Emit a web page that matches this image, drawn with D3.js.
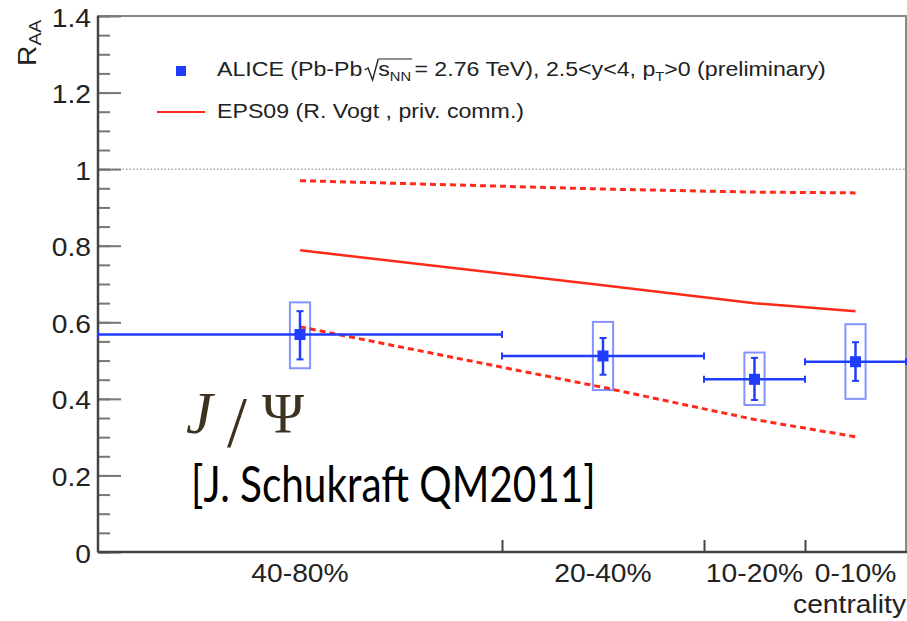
<!DOCTYPE html>
<html>
<head>
<meta charset="utf-8" />
<style>
body { margin: 0; background: white; }
svg { display: block; }
</style>
<script src="https://cdnjs.cloudflare.com/ajax/libs/d3/7.8.5/d3.min.js"></script>
</head>
<body>
<div id="chart"></div>
<script>
// centrality bins (percent), right side = most central
var binLabels = ["40-80%", "20-40%", "10-20%", "0-10%"];
var binLow    = [40, 20, 10, 0];
var binHigh   = [80, 40, 20, 10];
var binCenter = [60, 30, 15, 5];

// ALICE J/psi R_AA
var raa     = [0.568, 0.512, 0.451, 0.497];
var statLo  = [0.503, 0.463, 0.397, 0.447];
var statHi  = [0.629, 0.559, 0.507, 0.548];
var sysLo   = [0.480, 0.423, 0.384, 0.400];
var sysHi   = [0.652, 0.601, 0.521, 0.595];

// EPS09 shadowing band
var epsCentral = [0.788, 0.697, 0.650, 0.629];
var epsUpper   = [0.970, 0.948, 0.940, 0.938];
var epsLower   = [0.588, 0.430, 0.346, 0.301];

var yTicks = [0, 0.2, 0.4, 0.6, 0.8, 1, 1.2, 1.4];
var yMinor = d3.range(0, 29).map(function(i) { return i * 0.05; });
var xEdges = [40, 20, 10];

var W = 907, H = 621;
var mLeft = 98, mRight = 906, mTop = 16, mBottom = 552;
var blue = "#1f3cff", red = "#ff2a1a";
var sx = 1.13; // root fonts look a bit wide

var x = d3.scaleLinear().domain([80, 0]).range([mLeft, mRight]);
var y = d3.scaleLinear().domain([0, 1.4]).range([mBottom, mTop]);

var svg = d3.select("#chart").append("svg")
  .attr("width", W).attr("height", H)
  .style("font-family", "'Liberation Sans', Arial, sans-serif");

// frame
svg.append("rect")
  .attr("x", mLeft).attr("y", mTop)
  .attr("width", mRight - mLeft).attr("height", mBottom - mTop)
  .attr("fill", "none").attr("stroke", "#888").attr("stroke-width", 2);

// dotted line at 1
svg.append("line")
  .attr("x1", mLeft).attr("x2", mRight)
  .attr("y1", y(1)).attr("y2", y(1))
  .attr("stroke", "#777").attr("stroke-width", 1)
  .attr("stroke-dasharray", "1.5,2");

// y ticks (minor + major) pointing inward
svg.append("g")
  .attr("transform", "translate(" + mLeft + ",0)")
  .call(d3.axisRight(y).tickValues(yMinor).tickSize(12).tickFormat(""))
  .call(function(g) { g.select(".domain").remove(); })
  .selectAll("line").attr("stroke", "#777").attr("stroke-width", 2);

svg.append("g")
  .attr("transform", "translate(" + mLeft + ",0)")
  .call(d3.axisRight(y).tickValues(yTicks).tickSize(23).tickFormat(""))
  .call(function(g) { g.select(".domain").remove(); })
  .selectAll("line").attr("stroke", "#777").attr("stroke-width", 2);

// y labels
var yl = svg.append("g")
  .attr("transform", "translate(" + mLeft + ",0)")
  .call(d3.axisLeft(y).tickValues(yTicks).tickSize(0).tickFormat(d3.format("~g")));
yl.select(".domain").remove();
yl.selectAll("text")
  .attr("x", 0).attr("dy", "0.4em")
  .attr("transform", "translate(-7,0) scale(" + sx + ",1)")
  .attr("font-size", 25).attr("fill", "#222")
  .style("font-family", "'Liberation Sans', Arial, sans-serif");

// x ticks at bin edges
svg.append("g")
  .attr("transform", "translate(0," + mBottom + ")")
  .call(d3.axisBottom(x).tickValues(xEdges).tickSize(-12).tickFormat(""))
  .call(function(g) { g.select(".domain").remove(); })
  .selectAll("line").attr("stroke", "#444").attr("stroke-width", 2);

// axis lines
svg.append("line").attr("x1", mLeft).attr("x2", mLeft).attr("y1", mTop).attr("y2", mBottom)
  .attr("stroke", "#444").attr("stroke-width", 2.5);
svg.append("line").attr("x1", mLeft).attr("x2", mRight + 1).attr("y1", mBottom).attr("y2", mBottom)
  .attr("stroke", "#444").attr("stroke-width", 2.5);

function stretchText(px, py, str, size, anchor) {
  return svg.append("text")
    .attr("transform", "translate(" + px + "," + py + ") scale(" + sx + ",1)")
    .attr("text-anchor", anchor || "start")
    .attr("font-size", size)
    .attr("fill", "#222")
    .text(str);
}

// x labels
binLabels.forEach(function(lab, i) {
  stretchText(x(binCenter[i]), 582, lab, 25, "middle");
});
stretchText(mRight, 613, "centrality", 25, "end");

// y title R_AA
var yt = svg.append("text")
  .attr("transform", "translate(36,20) rotate(-90) scale(" + sx + ",1)")
  .attr("text-anchor", "end")
  .attr("fill", "#222");
yt.append("tspan").attr("font-size", 25).text("R");
yt.append("tspan").attr("font-size", 17).attr("dy", 5).text("AA");

// EPS09 curves
var line = d3.line()
  .x(function(d) { return x(d[0]); })
  .y(function(d) { return y(d[1]); });

function curve(vals) { return binCenter.map(function(c, i) { return [c, vals[i]]; }); }

svg.append("path").attr("d", line(curve(epsCentral)))
  .attr("fill", "none").attr("stroke", red).attr("stroke-width", 2.5);
[epsUpper, epsLower].forEach(function(v) {
  svg.append("path").attr("d", line(curve(v)))
    .attr("fill", "none").attr("stroke", red).attr("stroke-width", 3)
    .attr("stroke-dasharray", "6,4");
});

// ALICE points
var pts = svg.append("g");
binCenter.forEach(function(c, i) {
  var cx = x(c), cy = y(raa[i]);
  // systematic box
  pts.append("rect")
    .attr("x", x(c + 1)).attr("y", y(sysHi[i]))
    .attr("width", x(c - 1) - x(c + 1)).attr("height", y(sysLo[i]) - y(sysHi[i]))
    .attr("fill", "none").attr("stroke", blue).attr("stroke-opacity", 0.55).attr("stroke-width", 2);
  // horizontal bin width
  var x1 = x(binHigh[i]), x2 = x(binLow[i]);
  pts.append("line").attr("x1", x1).attr("x2", x2).attr("y1", cy).attr("y2", cy)
    .attr("stroke", blue).attr("stroke-width", 2.5);
  [x1, x2].forEach(function(xe) {
    pts.append("line").attr("x1", xe).attr("x2", xe).attr("y1", cy - 3.5).attr("y2", cy + 3.5)
      .attr("stroke", blue).attr("stroke-width", 2);
  });
  // stat error
  pts.append("line").attr("x1", cx).attr("x2", cx).attr("y1", y(statLo[i])).attr("y2", y(statHi[i]))
    .attr("stroke", blue).attr("stroke-width", 2.5);
  [statLo[i], statHi[i]].forEach(function(v) {
    pts.append("line").attr("x1", cx - 3.5).attr("x2", cx + 3.5).attr("y1", y(v)).attr("y2", y(v))
      .attr("stroke", blue).attr("stroke-width", 2);
  });
  pts.append("rect").attr("x", cx - 5.5).attr("y", cy - 5.5).attr("width", 11).attr("height", 11)
    .attr("fill", blue);
});

// legend
svg.append("rect").attr("x", 176).attr("y", 66).attr("width", 10).attr("height", 10).attr("fill", blue);
svg.append("line").attr("x1", 157).attr("x2", 205).attr("y1", 112).attr("y2", 112)
  .attr("stroke", red).attr("stroke-width", 2);

var leg = svg.append("g").attr("transform", "translate(217,76) scale(" + sx + ",1)")
  .attr("fill", "#222").attr("font-size", 20.5);
var lx = 0;
function piece(str, size, dy) {
  var t = leg.append("text").attr("x", lx).attr("y", dy || 0)
    .attr("font-size", size).text(str);
  lx += t.node().getComputedTextLength();
}
piece("ALICE (Pb-Pb", 20.5);
lx += 2;
var rootStart = lx;
leg.append("path")
  .attr("d", "M" + lx + ",-6 L" + (lx + 3) + ",-8 L" + (lx + 7) + ",4 L" + (lx + 12) + ",-17")
  .attr("fill", "none").attr("stroke", "#222").attr("stroke-width", 1.2);
lx += 12;
piece("s", 20.5);
piece("NN", 13, 5);
leg.append("line").attr("x1", rootStart + 12).attr("x2", lx + 1).attr("y1", -17).attr("y2", -17)
  .attr("stroke", "#222").attr("stroke-width", 1.2);
lx += 3;
piece(" = 2.76 TeV), 2.5<y<4, p", 20.5);
piece("T", 13, 5);
piece(">0 (preliminary)", 20.5);

stretchText(217, 118, "EPS09 (R. Vogt , priv. comm.)", 20.5, "start");

// annotations
var ann = svg.append("g").attr("fill", "#3d3220")
  .style("font-family", "'Liberation Serif', 'DejaVu Serif', serif");
ann.append("text").attr("x", 186).attr("y", 433).attr("font-size", 60)
  .attr("font-style", "italic").text("J");
ann.append("text").attr("x", 237).attr("y", 446).attr("font-size", 72)
  .attr("text-anchor", "middle").text("/");
ann.append("text").attr("x", 283).attr("y", 433).attr("font-size", 57)
  .attr("text-anchor", "middle").text("Ψ");

svg.append("text")
  .attr("transform", "translate(191,502) scale(0.81,1)")
  .attr("font-size", 50).attr("fill", "#000")
  .style("font-family", "Lato, 'Open Sans', sans-serif")
  .text("[J. Schukraft QM2011]");
</script>
</body>
</html>
